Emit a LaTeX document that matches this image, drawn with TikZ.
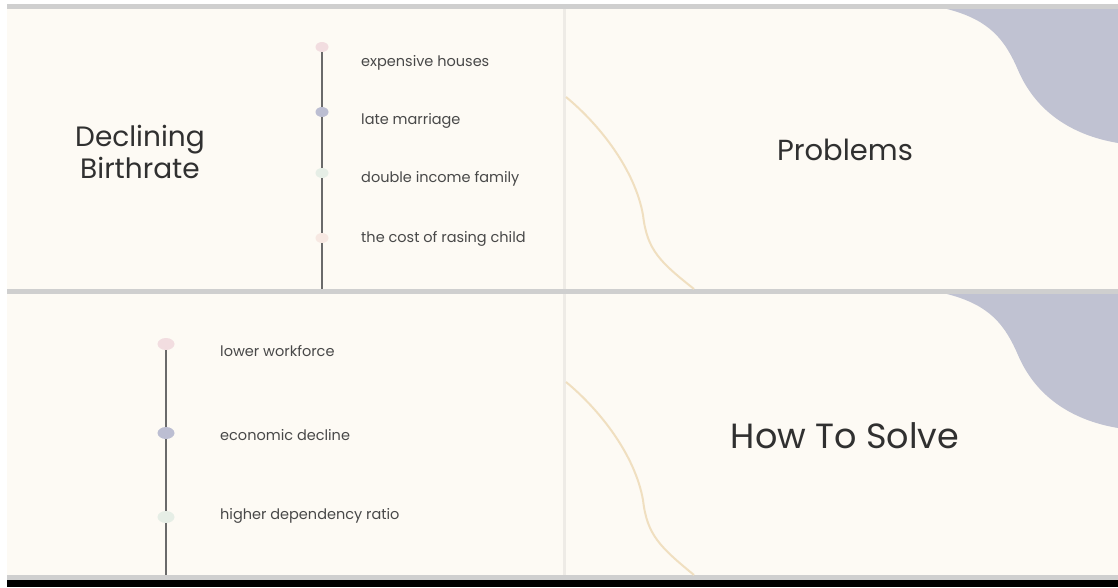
\documentclass[tikz,border=0pt]{standalone}
\usepackage{fontspec}
\setmainfont{Poppins}
\usetikzlibrary{positioning, shapes.geometric}

\definecolor{cream}{HTML}{FDFAF4}
\definecolor{bandgray}{HTML}{CFCFCF}
\definecolor{seam}{HTML}{EEEBE6}
\definecolor{blob}{HTML}{C0C2D2}
\definecolor{wave}{HTML}{F0DFC0}
\definecolor{dotpink}{HTML}{F2DDE0}
\definecolor{dotlav}{HTML}{BCBED2}
\definecolor{dotgreen}{HTML}{E6EEE6}
\definecolor{dotpeach}{HTML}{F7E8E2}
\definecolor{titletext}{HTML}{303030}
\definecolor{itemtext}{HTML}{484848}
\definecolor{stem}{HTML}{6A6A6A}

\begin{document}
\begin{tikzpicture}[x=1pt, y=-1pt,
  dot/.style={ellipse, fill=#1, draw=none, inner sep=0pt, minimum width=13pt, minimum height=10pt},
  bigdot/.style={dot=#1, minimum width=17pt, minimum height=12pt},
  item/.style={anchor=west, inner sep=0pt, text=itemtext, font=\fontsize{14.5}{16}\selectfont},
  bigitem/.style={item, font=\fontsize{14.5}{16}\selectfont},
  heading/.style={align=center, inner sep=0pt, text=titletext}]
  \useasboundingbox (0,0) rectangle (1118,587);

  % Frame and slides
  \fill[white] (0,0) rectangle (1118,587);
  \fill[bandgray] (7,4) rectangle (1118,9);
  \fill[bandgray] (7,289) rectangle (1118,294);
  \fill[bandgray] (7,575) rectangle (1118,580);
  \fill[black] (7,580) rectangle (1118,587);
  \fill[cream] (7,9) rectangle (563,289);
  \fill[cream] (566,9) rectangle (1118,289);
  \fill[cream] (7,294) rectangle (563,575);
  \fill[cream] (566,294) rectangle (1118,575);
  \fill[seam] (563,9) rectangle (566,289);
  \fill[seam] (563,294) rectangle (566,575);

  % Decorations (top right slide)
  \fill[blob] (947,9) .. controls (990,20) and (1005,40) .. (1018,70)
    .. controls (1035,110) and (1070,135) .. (1118,143) -- (1118,9) -- cycle;
  \draw[wave, line width=2pt] (566,97) .. controls (600,125) and (635,170) .. (643,215)
    .. controls (647,250) and (660,262) .. (694,289);

  % Decorations (bottom right slide)
  \fill[blob] (947,294) .. controls (990,305) and (1005,325) .. (1018,355)
    .. controls (1035,395) and (1070,420) .. (1118,428) -- (1118,294) -- cycle;
  \draw[wave, line width=2pt] (566,382) .. controls (600,410) and (635,455) .. (643,500)
    .. controls (647,535) and (660,547) .. (694,575);

  % Titles
  \node[heading, font=\fontsize{28}{32}\selectfont] (declining) at (140,152) {Declining\\Birthrate};
  \node[heading, font=\fontsize{29}{32}\selectfont] (problems) at (845,150) {Problems};
  \node[heading, font=\fontsize{35}{38}\selectfont] (solve) at (845,436) {How To Solve};

  % Causes timeline
  \node[dot=dotpink] (c1) at (322,47) {};
  \node[dot=dotlav] (c2) at (322,112) {};
  \node[dot=dotgreen] (c3) at (322,173) {};
  \node[dot=dotpeach] (c4) at (322,238) {};
  \coordinate (cend) at (322,289);
  \draw[stem, line width=1.2pt] (c1) -- (c2) -- (c3) -- (c4) -- (cend);

  \node[item] (houses) at (361,63) {expensive houses};
  \node[item] (marriage) at (361,121) {late marriage};
  \node[item] (income) at (361,179) {double income family};
  \node[item] (cost) at (361,239) {the cost of rasing child};

  % Effects timeline
  \node[bigdot=dotpink] (e1) at (166,344) {};
  \node[bigdot=dotlav] (e2) at (166,433) {};
  \node[bigdot=dotgreen] (e3) at (166,517) {};
  \coordinate (eend) at (166,575);
  \draw[stem, line width=1.2pt] (e1) -- (e2) -- (e3) -- (eend);

  \node[bigitem] (workforce) at (220,351) {lower workforce};
  \node[bigitem] (economy) at (220,435) {economic decline};
  \node[bigitem] (ratio) at (220,516) {higher dependency ratio};
\end{tikzpicture}
\end{document}
